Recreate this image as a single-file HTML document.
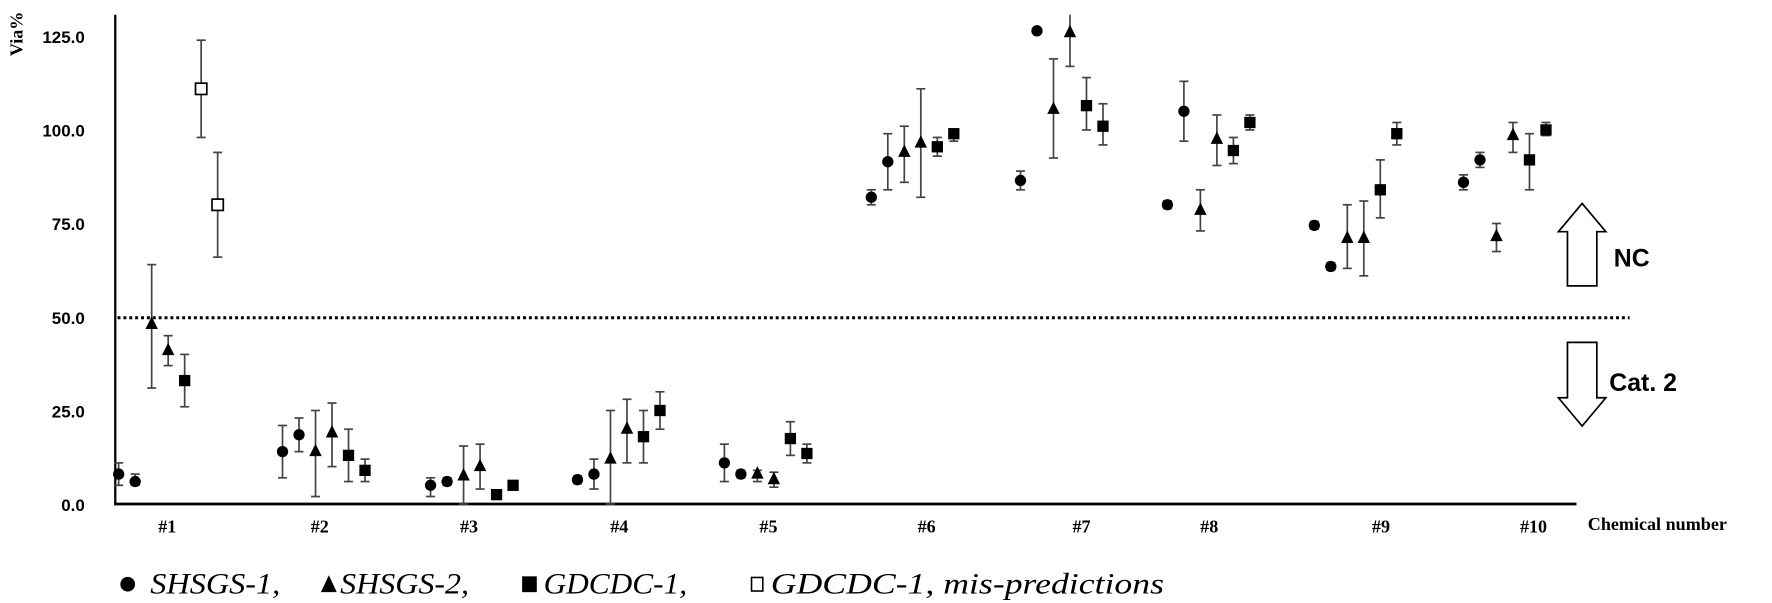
<!DOCTYPE html>
<html><head><meta charset="utf-8"><style>
body{margin:0;background:#fff;}
svg{display:block;}
</style></head><body>
<svg id="chart" width="1772" height="603" viewBox="0 0 1568 533.6" preserveAspectRatio="none">
<text x="20" y="30" transform="rotate(-90 20 30)" font-family="Liberation Serif, serif" font-weight="bold" font-size="16" text-anchor="middle">Via%</text>
<g id="yticks"></g>
<line x1="102" y1="13" x2="102" y2="447" stroke="#000" stroke-width="2"/>
<line x1="101" y1="446" x2="1395" y2="446" stroke="#000" stroke-width="2.5"/>
<line id="threshold" x1="104" x2="1442" stroke="#000" stroke-width="2.6" stroke-dasharray="2.6,2.6"/>
<g id="xlabels"></g>
<text x="1405" y="469" font-family="Liberation Serif, serif" font-weight="bold" font-size="16">Chemical number</text>
<g id="marks"></g>
<path d="M1387,253 L1387,205 L1379,205 L1400,180 L1421,205 L1413,205 L1413,253 Z" fill="#fff" stroke="#000" stroke-width="1.5"/>
<text x="1428" y="236" font-family="Liberation Sans, sans-serif" font-weight="bold" font-size="22">NC</text>
<path d="M1387,303 L1387,352 L1379,352 L1400,377 L1421,352 L1413,352 L1413,303 Z" fill="#fff" stroke="#000" stroke-width="1.5"/>
<text x="1424" y="346" font-family="Liberation Sans, sans-serif" font-weight="bold" font-size="22">Cat. 2</text>
<g font-family="Liberation Serif, serif" font-style="italic" font-size="26">
<g><circle cx="113" cy="517" r="6.5"/><text x="133" y="525" textLength="115" lengthAdjust="spacingAndGlyphs">SHSGS-1,</text></g>
<g><path d="M291,509 L298,524 L284,524 Z"/><text x="301" y="525" textLength="114" lengthAdjust="spacingAndGlyphs">SHSGS-2,</text></g>
<g><rect x="462" y="510" width="13" height="14"/><text x="481" y="525" textLength="127" lengthAdjust="spacingAndGlyphs">GDCDC-1,</text></g>
<g><rect x="665" y="511" width="10" height="12" fill="#fff" stroke="#000" stroke-width="1.4"/><text x="682" y="525" textLength="348" lengthAdjust="spacingAndGlyphs">GDCDC-1, mis-predictions</text></g>
</g>
</svg>
<script>
const yTicks=[0,25,50,75,100,125];
const xCategories=["#1","#2","#3","#4","#5","#6","#7","#8","#9","#10"];
const categoryLabelX=[148,283,415,548,680,820,957,1070,1222,1357];
const threshold=49.8;
const shapes=[
["c","c","t","t","s","o","o"],
["c","c","t","t","s","s"],["c","c","t","t","s","s"],["c","c","t","t","s","s"],["c","c","t","t","s","s"],
["c","c","t","t","s","s"],["c","c","t","t","s","s"],["c","c","t","t","s","s"],["c","c","t","t","s","s"],["c","c","t","t","s","s"]];
const values=[
[8,6,48,41,33,111,80],[14,18.5,14,19,13,9],[5,6,7.5,10,2.5,5],[6.5,8,12,20,18,25],[11,8,8,6.5,17.5,13.5],
[82,91.5,94,96.5,95.5,99],[86.5,126.5,105.5,126,106.5,101],[80,105,78.5,97.5,94.5,102],[74.5,63.5,71,71,84,99],[86,92,71.5,98.5,92,100]];
const errLow=[
[5,5,31,37,26,98,66],[7,14,2,10,6,6],[2,5,0,4,2,4.5],[5.5,4,0,11,11,20],[6,7,6,4.5,13,11],
[80,84,86,82,93,97],[84,126,92.5,117,100,96],[79,97,73,90.5,91,100],[73.5,62.5,63,61,76.5,96],[84,90,67.5,94,84,98.5]];
const errHigh=[
[11,8,64,45,40,124,94],[21,23,25,27,20,12],[7,7,15.5,16,3,5.5],[7.5,12,25,28,25,30],[16,9,9,8.5,22,16],
[84,99,101,111,98,100],[89,127,119,131,114,107],[81,113,84,104,98,104],[75.5,64.5,80,81,92,102],[88,94,75,102,99,102]];
const groupStart=[105,250,381,511,641,771,903,1033,1163,1295];

const NS="http://www.w3.org/2000/svg";
function y(v){return Math.max(13,446-v*3.31);}
function xPos(g,i){return groupStart[g]+i*14.6;}
function mk(tag,attrs,parent){const e=document.createElementNS(NS,tag);for(const k in attrs)e.setAttribute(k,attrs[k]);parent.appendChild(e);return e;}

const yt=document.getElementById('yticks');
yTicks.forEach(v=>{
 const t=mk('text',{x:75,y:y(v)+6,'text-anchor':'end','font-family':'Liberation Sans, sans-serif','font-weight':'bold','font-size':'15'},yt);
 
 
 t.textContent=v.toFixed(1);
});
const th=document.getElementById('threshold');
th.setAttribute('y1',y(threshold));th.setAttribute('y2',y(threshold));

const xl=document.getElementById('xlabels');
xCategories.forEach((c,i)=>{
 const t=mk('text',{x:categoryLabelX[i],y:471,'text-anchor':'middle','font-family':'Liberation Serif, serif','font-weight':'bold','font-size':'16'},xl);
 
 
 t.textContent=c;
});

const m=document.getElementById('marks');
values.forEach((arr,g)=>{
 arr.forEach((v,i)=>{
  const cx=xPos(g,i);
  const gg=mk('g',{},m);
  
  
  const yl=y(errLow[g][i]),yh=y(errHigh[g][i]);
  const st={stroke:'#444','stroke-width':'1.5'};
  mk('line',Object.assign({x1:cx,x2:cx,y1:yl,y2:yh},st),gg);
  if(errHigh[g][i]<=130) mk('line',Object.assign({x1:cx-4,x2:cx+4,y1:yh,y2:yh},st),gg);
  mk('line',Object.assign({x1:cx-4,x2:cx+4,y1:yl,y2:yl},st),gg);
  const cy=y(v),s=shapes[g][i];
  if(s==='c') mk('circle',{cx:cx,cy:cy,r:5,fill:'#000'},gg);
  else if(s==='t') mk('path',{d:`M${cx},${cy-7} L${cx+5.5},${cy+4} L${cx-5.5},${cy+4} Z`,fill:'#000'},gg);
  else if(s==='s') mk('rect',{x:cx-5,y:cy-5,width:10,height:10,fill:'#000'},gg);
  else mk('rect',{x:cx-5,y:cy-5,width:10,height:10,fill:'#fff',stroke:'#000','stroke-width':'1.5'},gg);
 });
});
</script>
</body></html>
